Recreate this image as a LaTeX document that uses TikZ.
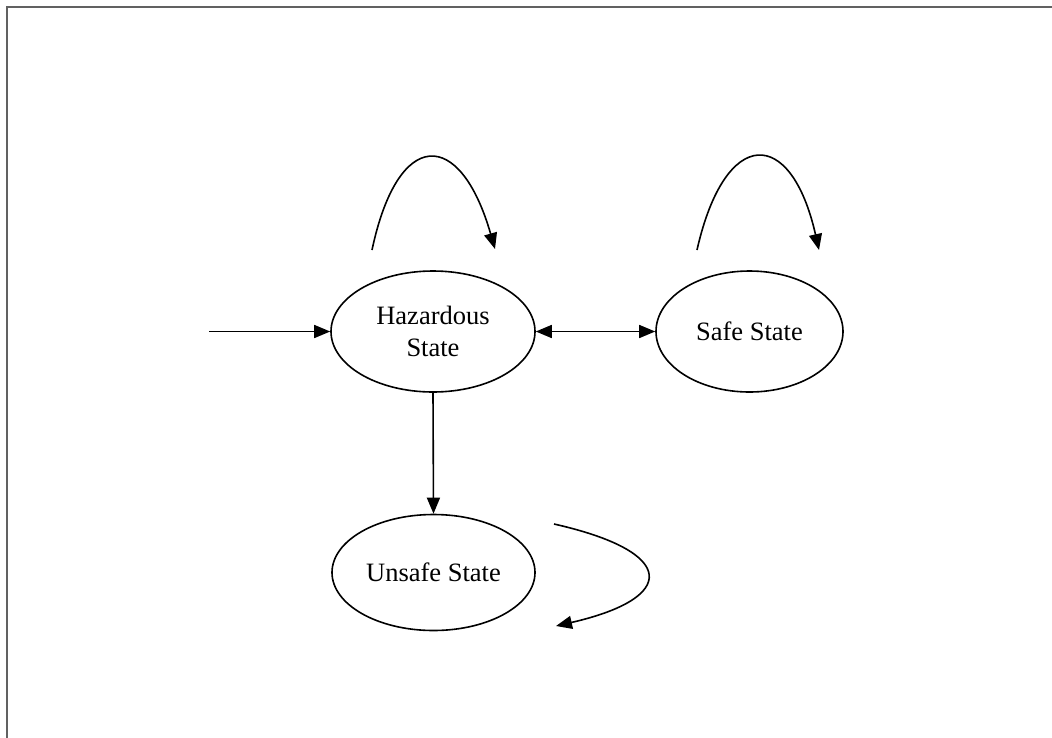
\documentclass[tikz,border=0pt]{standalone}
\usepackage{fontspec}
\setmainfont{Liberation Serif}
\usetikzlibrary{shapes.geometric,arrows.meta}
\begin{document}
\begin{tikzpicture}[x=1pt,y=-1pt,
  statenode/.style={ellipse,draw,line width=1.6pt,inner sep=0pt,align=center,
    font=\fontsize{26.5}{32}\selectfont},
  tip/.style={-{Triangle[length=16pt,width=13pt]}},
  conn/.style={line width=1.6pt,tip},
  frameline/.style={draw=black!62,line width=2.2pt}]
  \useasboundingbox (0,0) rectangle (1052,737);
  % outer frame (top and left edges)
  \draw[frameline] (7,740) -- (7,7) -- (1056,7);

  % states
  \node[statenode,minimum width=204pt,minimum height=121pt] (haz) at (433,331.5) {Hazardous\\State};
  \node[statenode,minimum width=187pt,minimum height=121pt] (safe) at (749.5,331.5) {Safe State};
  \node[statenode,minimum width=203pt,minimum height=116pt] (unsafe) at (433.5,572.5) {Unsafe State};

  % loop and entry end points
  \coordinate (entry) at (209,331.5);
  \coordinate (hazA) at (372,250);
  \coordinate (hazB) at (495,249);
  \coordinate (safeA) at (697,250);
  \coordinate (safeB) at (819,250);
  \coordinate (unsA) at (554,524);
  \coordinate (unsB) at (556,626);

  % transitions
  \draw[conn] (entry) -- (haz.west);
  \draw[line width=1.6pt,{Triangle[length=16pt,width=13pt]}-{Triangle[length=16pt,width=13pt]}] (haz.east) -- (safe.west);
  \draw[conn] (haz.south) -- (unsafe.north);

  % self loops
  \draw[conn] (hazA) .. controls (398,127.5) and (460,127.5) .. (hazB);
  \draw[conn] (safeA) .. controls (725,126) and (791,126) .. (safeB);
  \draw[conn] (unsA) .. controls (678,552) and (678,598) .. (unsB);
\end{tikzpicture}
\end{document}
